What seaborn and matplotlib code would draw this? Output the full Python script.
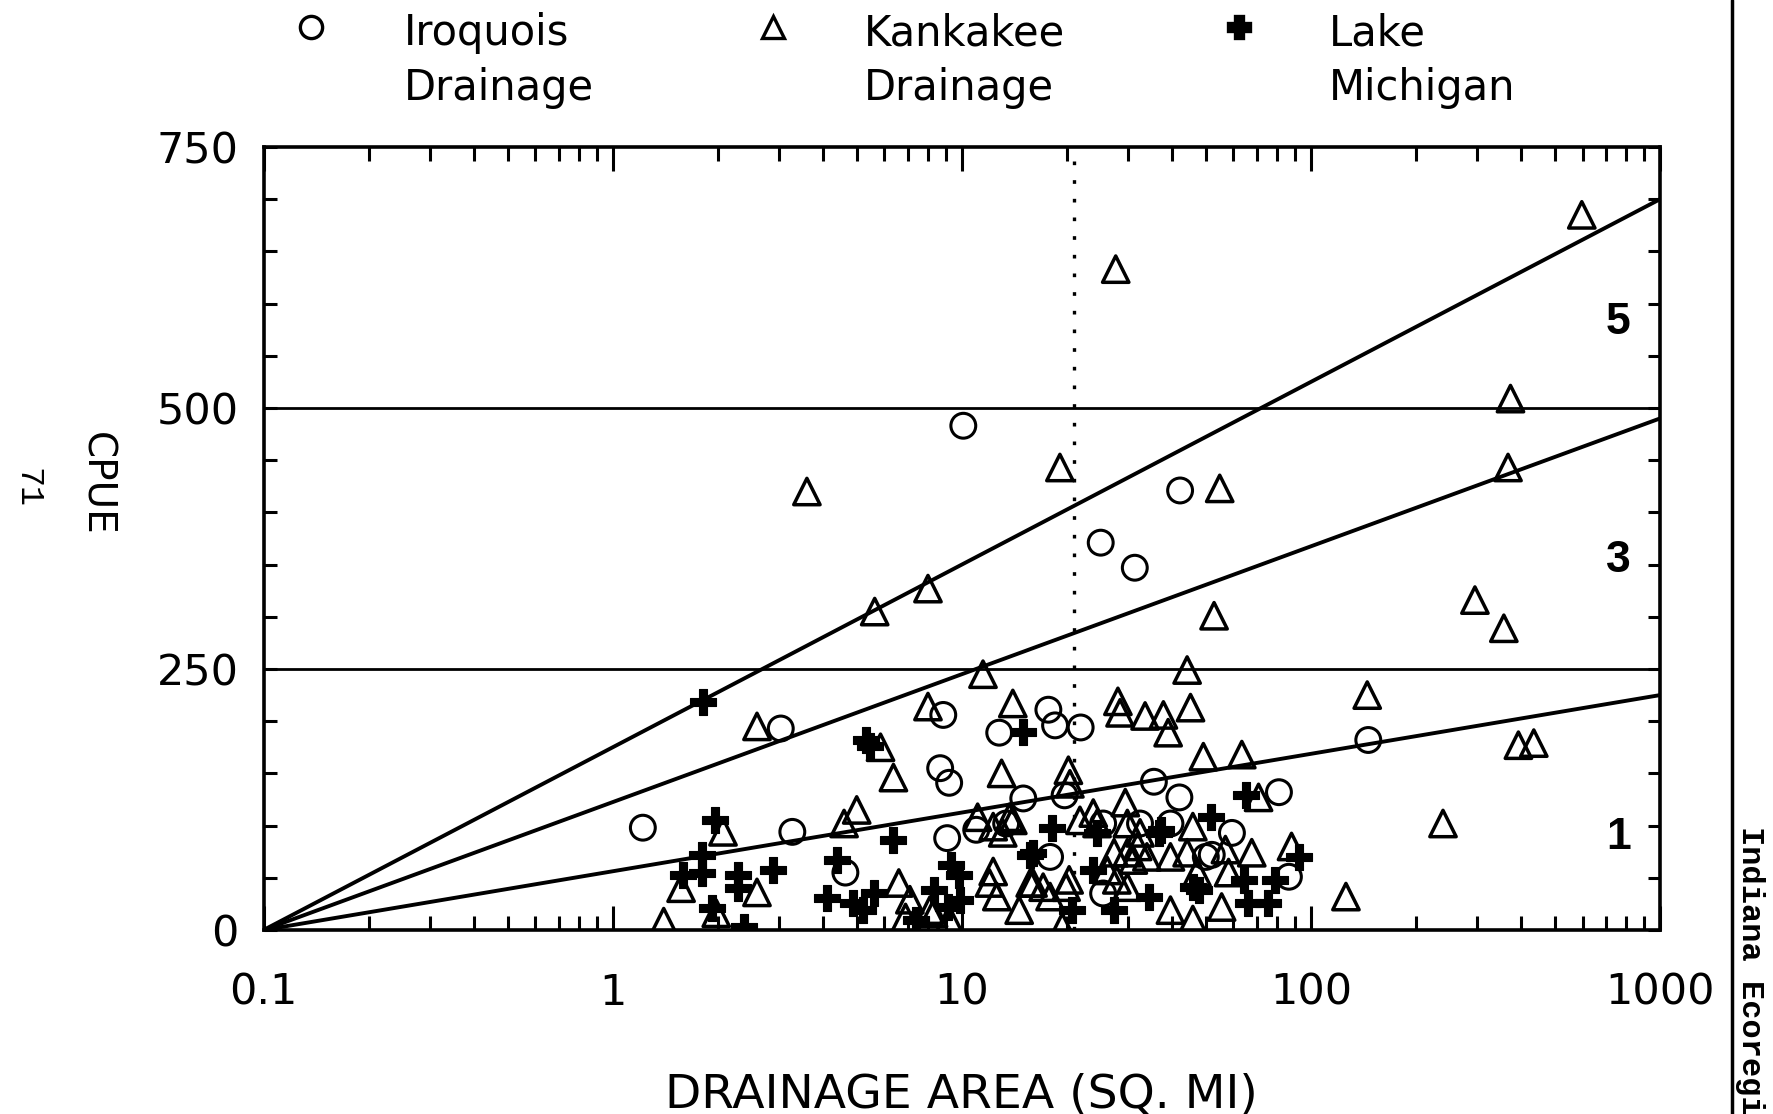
import matplotlib
matplotlib.use("Agg")
import matplotlib.pyplot as plt
from matplotlib.lines import Line2D
from matplotlib.ticker import LogLocator, NullFormatter, MultipleLocator
import seaborn as sns

# ---------------- data ----------------
iroquois_area = [10.1, 42.2, 25.0, 31.3, 3.03, 8.85, 17.7, 18.5, 21.9, 12.8, 146, 8.67, 9.2,
                 15.0, 19.7, 35.5, 42.0, 81, 1.22, 3.27, 9.08, 11.0, 13.4, 17.9, 25.4, 32.4,
                 39.6, 59.4, 50, 86.5, 25.4, 4.64, 52]
iroquois_cpue = [483, 421, 371, 347, 193, 206, 211, 196, 194, 189, 182, 155, 141,
                 126, 129, 142, 127, 132, 98, 94, 88, 96, 102, 70, 102, 102,
                 102, 93, 70, 51, 35, 55, 72]

kankakee_area = [597, 27.6, 373, 3.60, 19.1, 54.8, 367, 8.0, 5.63, 52.8, 295, 357, 11.5, 44.2,
                 145, 2.59, 8.0, 14.0, 28.0, 28.4, 33.5, 37.8, 45.2, 39, 5.85, 49.2, 63.4, 393,
                 435, 6.37, 13.0, 20.2, 20.4, 5.0, 4.6, 11.1, 12.3, 13.1, 14.0, 21.8, 23.8, 24.4,
                 29.4, 29.8, 32.4, 45.9, 70.8, 239, 2.07, 31.9, 29.8, 27.3, 31.0, 33.9, 39.6,
                 44.2, 56.9, 67.7, 88, 26.1, 27.8, 29.8, 47.2, 58.1, 1.57, 2.59, 1.40, 126,
                 19.4, 12.3, 12.0, 12.6, 14.6, 15.7, 17.1, 17.9, 20.3, 19.9, 6.6, 7.1, 8.1,
                 6.9, 9.2, 8.3, 39.6, 45.9, 55.5, 1.98, 16, 13.7]
kankakee_cpue = [685, 633, 509, 420, 443, 423, 443, 327, 305, 301, 316, 289, 245, 249,
                 225, 195, 214, 217, 219, 208, 205, 206, 213, 189, 175, 166, 168, 177,
                 179, 146, 150, 153, 140, 115, 102, 108, 99, 93, 105, 105, 112, 102,
                 122, 102, 93, 99, 127, 102, 94, 80, 74, 74, 67, 70, 70,
                 74, 77, 74, 80, 57, 48, 41, 55, 55, 40, 36, 8, 32,
                 3, 56, 45, 32, 19, 45, 41, 32, 48, 41, 45, 29, 19,
                 12, 10, 16, 19, 10, 22, 16, 45, 108]

lake_area = [1.82, 5.3, 5.45, 15.0, 1.97, 6.37, 1.80, 1.59, 1.80, 2.29, 2.29, 2.87, 1.93, 2.37,
             4.4, 4.1, 4.87, 5.6, 5.2, 18.1, 15.7, 24.4, 23.8, 36.6, 51.9, 65.1, 34.3, 47.9,
             64.2, 78.7, 66, 75.6, 27.3, 20.7, 9.86, 9.1, 7.4, 8.3, 9.3, 9.8, 92.5, 16.0,
             37.1, 46]
lake_cpue = [218, 182, 176, 190, 105, 86, 72, 53, 55, 53, 40, 57, 21, 3,
             67, 31, 26, 35, 19, 98, 72, 93, 57, 93, 108, 129, 32, 38,
             48, 48, 26, 26, 19, 19, 29, 22, 10, 38, 62, 53, 70, 74,
             96, 41]

x_ticks = [0.1, 1, 10, 100, 1000]
x_tick_labels = ["0.1", "1", "10", "100", "1000"]
y_ticks = [0, 250, 500, 750]
y_tick_labels = ["0", "250", "500", "750"]

class_bounds = [250, 500]
line_area = [0.1, 1000]
line_end_cpue = [700, 490, 225]
divider_area = 21
class_labels = ["5", "3", "1"]
class_label_cpue = [582, 354, 89]
class_label_area = 760

# ---------------- figure ----------------
sns.set_style("ticks")
plt.rcParams["font.family"] = ["DejaVu Sans"]
plt.rcParams["text.color"] = "black"
plt.rcParams["axes.labelcolor"] = "black"
plt.rcParams["xtick.color"] = "black"
plt.rcParams["ytick.color"] = "black"

W, H = 1774, 1114
fig = plt.figure(figsize=(W / 100, H / 100), dpi=100)
ax = fig.add_axes([263.6 / W, 1 - 930 / H, (1660 - 263.6) / W, (930 - 147) / H])
ax.set_xscale("log")

for v in line_end_cpue:
    sns.lineplot(x=line_area, y=[0, v], ax=ax, color="black", linewidth=2.8, zorder=2)
for b in class_bounds:
    ax.axhline(b, color="black", linewidth=2.0, zorder=2)
ax.axvline(divider_area, color="black", linewidth=2.4, linestyle=(0, (1.1, 4.5)), zorder=2)

sns.scatterplot(x=iroquois_area, y=iroquois_cpue, ax=ax, marker="o", s=320,
                facecolor="none", edgecolor="black", linewidth=2.2, zorder=3, legend=False)
sns.scatterplot(x=kankakee_area, y=kankakee_cpue, ax=ax, marker="^", s=360,
                facecolor="none", edgecolor="black", linewidth=2.5, zorder=3, legend=False)
sns.scatterplot(x=lake_area, y=lake_cpue, ax=ax, marker="P", s=340,
                color="black", edgecolor="black", linewidth=0.8, zorder=4, legend=False)

for lab, yv in zip(class_labels, class_label_cpue):
    ax.text(class_label_area, yv, lab, ha="center", va="center", fontsize=32,
            fontweight="bold", family=["Liberation Sans", "DejaVu Sans"])

ax.set_xlim(0.1, 1000)
ax.set_ylim(0, 750)
ax.set_xticks(x_ticks, x_tick_labels)
ax.xaxis.set_minor_locator(LogLocator(base=10, subs=[2, 3, 4, 5, 6, 7, 8, 9]))
ax.xaxis.set_minor_formatter(NullFormatter())
ax.set_yticks(y_ticks, y_tick_labels)
ax.yaxis.set_minor_locator(MultipleLocator(50))

for sp in ax.spines.values():
    sp.set_linewidth(2.6)
    sp.set_color("black")
ax.tick_params(which="both", direction="in", top=True, right=True, colors="black", width=2.2)
ax.tick_params(axis="x", which="major", length=17, pad=30, labelsize=31)
ax.tick_params(axis="x", which="minor", length=10)
ax.tick_params(axis="y", which="major", length=9, pad=18, labelsize=31)
ax.tick_params(axis="y", which="minor", length=9)

ax.set_xlabel("DRAINAGE AREA (SQ. MI)", fontsize=34)
ax.xaxis.set_label_coords(0.5, (930 - 1095) / (930 - 147))
ax.xaxis.label.set_va("center")
ax.set_ylabel("CPUE", fontsize=28, rotation=270)
ax.yaxis.set_label_coords((96 - 263.6) / (1660 - 263.6), (930 - 484) / (930 - 147))
ax.yaxis.label.set_va("center")
ax.yaxis.label.set_ha("center")

# ---------------- legend (manual, above the plot) ----------------
def fx(px):
    return px / W

def fy(py):
    return 1 - py / H

legend_items = [
    ("o", "none", 311, 404, "Iroquois", "Drainage"),
    ("^", "none", 773, 864, "Kankakee", "Drainage"),
    ("P", "black", 1239, 1329, "Lake", "Michigan"),
]
for mk, fc, mx, tx, l1, l2 in legend_items:
    fig.add_artist(Line2D([fx(mx)], [fy(27)], transform=fig.transFigure, marker=mk,
                          markersize=16, markerfacecolor=fc, markeredgecolor="black",
                          markeredgewidth=2.4, linestyle="none"))
    fig.text(fx(tx), fy(45), l1, fontsize=30, va="baseline", ha="left")
    fig.text(fx(tx), fy(100), l2, fontsize=30, va="baseline", ha="left")

# ---------------- page furniture from the scan ----------------
fig.add_artist(Line2D([fx(1732), fx(1732)], [0, 1], transform=fig.transFigure,
                      color="black", linewidth=2.5))
fig.text(fx(1750), fy(826), "Indiana Ecoregi", rotation=270, ha="center", va="top",
         fontsize=23, fontweight="bold", family=["Liberation Mono", "DejaVu Sans Mono"])
fig.text(fx(27), fy(488), "71", rotation=270, ha="center", va="center",
         fontsize=24, family=["Liberation Mono", "DejaVu Sans Mono"])

fig.savefig("out.png", dpi=100, facecolor="white")
